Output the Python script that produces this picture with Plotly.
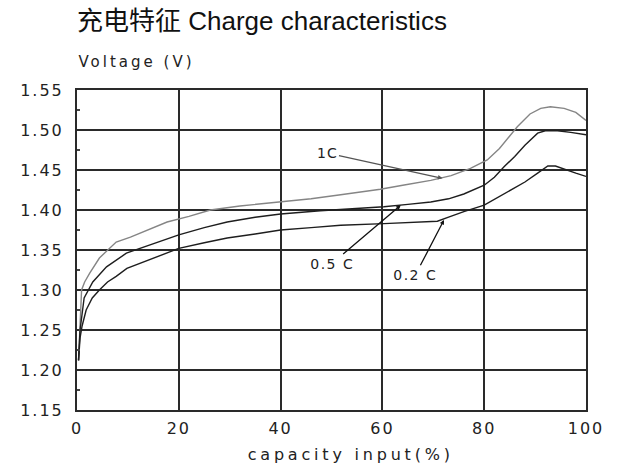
import plotly.graph_objects as go

# capacity input (%) and voltage (V) for each charge rate
x_1c = [0.3, 0.6, 0.9, 1.5, 2.5, 4.4, 7.7, 10.5, 13.6, 17.7, 22, 26.2, 32, 40, 46, 51.8,
        59.6, 64, 69.5, 73.5, 77.3, 80.6, 83, 86.5, 89, 91.1, 93, 95.7, 98, 100]
v_1c = [1.212, 1.26, 1.30, 1.31, 1.321, 1.34, 1.36, 1.366, 1.374, 1.385, 1.392, 1.40, 1.405,
        1.41, 1.414, 1.419, 1.426, 1.431, 1.437, 1.443, 1.452, 1.4625, 1.477, 1.504, 1.52,
        1.527, 1.529, 1.527, 1.522, 1.512]

x_05c = [0.3, 0.6, 1.0, 1.4, 3.1, 5.8, 9.7, 13.6, 20, 25, 29.5, 35, 40, 47.8, 53.7, 60.3,
         65, 69.5, 73, 76, 80, 82, 83.9, 86, 88, 90.5, 92, 94.4, 97, 100]
v_05c = [1.212, 1.25, 1.27, 1.29, 1.31, 1.329, 1.346, 1.355, 1.369, 1.378, 1.385, 1.391,
         1.395, 1.399, 1.401, 1.404, 1.407, 1.41, 1.414, 1.42, 1.431, 1.441, 1.454, 1.467,
         1.481, 1.496, 1.499, 1.499, 1.497, 1.494]

x_02c = [0.3, 0.6, 1.0, 1.8, 3, 4.4, 6, 7.7, 9.8, 13, 16, 20, 25, 29.5, 35, 40, 46, 51.8,
         60.3, 65, 70.8, 73, 76, 80, 82.5, 85.2, 88, 90.5, 92.5, 94, 96, 98, 100]
v_02c = [1.212, 1.24, 1.255, 1.275, 1.29, 1.30, 1.31, 1.317, 1.327, 1.335, 1.343, 1.352,
         1.359, 1.365, 1.37, 1.375, 1.378, 1.381, 1.383, 1.384, 1.386, 1.391, 1.398, 1.406,
         1.415, 1.425, 1.435, 1.446, 1.455, 1.455, 1.45, 1.446, 1.442]

x_ticks = [0, 20, 40, 60, 80, 100]
y_ticks = [1.15, 1.20, 1.25, 1.30, 1.35, 1.40, 1.45, 1.50, 1.55]
y_ticktext = ["1.15", "1.20", "1.25", "1.30", "1.35", "1.40", "1.45", "1.50", "1.55"]

title_text = "充电特征 Charge characteristics"
y_title = "Voltage (V)"
x_title = "capacity input(%)"

# label: (text, text_x, text_y, point_x, point_y, colour)
labels = [
    ("1C", 49.3, 1.471, 71.8, 1.4396, "#555555"),
    ("0.5 C", 50.1, 1.333, 63.6, 1.406, "#111111"),
    ("0.2 C", 66.5, 1.319, 72.1, 1.3875, "#111111"),
]

W, H = 619, 468
ML, MR, MT, MB = 77, 33, 90, 58
PW, PH = W - ML - MR, H - MT - MB


def px_x(px):
    return (px - ML) / PW


def px_y(py):
    return (H - MB - py) / PH


tick_font = dict(family="DejaVu Sans", size=16, color="#222222")

fig = go.Figure()
fig.add_trace(go.Scatter(x=x_1c, y=v_1c, mode="lines",
                         line=dict(color="#858585", width=1.4), name="1C"))
fig.add_trace(go.Scatter(x=x_05c, y=v_05c, mode="lines",
                         line=dict(color="#1e1e1e", width=1.4), name="0.5C"))
fig.add_trace(go.Scatter(x=x_02c, y=v_02c, mode="lines",
                         line=dict(color="#1e1e1e", width=1.4), name="0.2C"))

annotations = []
for text, tx, ty, px, py, col in labels:
    annotations.append(dict(
        x=px, y=py, xref="x", yref="y", ax=tx, ay=ty, axref="x", ayref="y",
        text=text, showarrow=True, arrowhead=2, arrowsize=0.7, arrowwidth=1.3,
        arrowcolor=col, standoff=0, startstandoff=0,
        font=dict(family="DejaVu Sans", size=14, color="#222222"),
    ))

annotations.append(dict(x=px_x(75), y=px_y(21), xref="paper", yref="paper",
                        xanchor="left", yanchor="middle", showarrow=False,
                        text=title_text,
                        font=dict(family="Liberation Sans, Noto Sans CJK SC", size=26, color="#111111")))
annotations.append(dict(x=px_x(136), y=px_y(62), xref="paper", yref="paper",
                        xanchor="center", yanchor="middle", showarrow=False,
                        text=y_title,
                        font=dict(family="DejaVu Sans", size=15, color="#222222")))
annotations.append(dict(x=px_x(350), y=px_y(454), xref="paper", yref="paper",
                        xanchor="center", yanchor="middle", showarrow=False,
                        text=x_title,
                        font=dict(family="DejaVu Sans", size=16, color="#222222")))

fig.update_layout(
    width=W, height=H,
    margin=dict(l=ML, r=MR, t=MT, b=MB, autoexpand=False),
    paper_bgcolor="white", plot_bgcolor="white",
    showlegend=False,
    annotations=annotations,
    xaxis=dict(range=[0, 100], tickvals=x_ticks, ticktext=[str(v) for v in x_ticks],
               showgrid=True, gridcolor="#2a2a2a", gridwidth=2,
               showline=True, mirror=True, linecolor="#2a2a2a", linewidth=2,
               ticks="outside", ticklen=3, tickcolor="rgba(0,0,0,0)",
               tickfont=tick_font, zeroline=False, fixedrange=True),
    yaxis=dict(range=[1.15, 1.55], tickvals=y_ticks, ticktext=y_ticktext,
               showgrid=True, gridcolor="#2a2a2a", gridwidth=2,
               showline=True, mirror=True, linecolor="#2a2a2a", linewidth=2,
               ticks="outside", ticklen=8, tickcolor="rgba(0,0,0,0)",
               tickfont=tick_font, zeroline=False, fixedrange=True,
               minor=dict(ticks="inside", ticklen=3, tickwidth=1.5, tickcolor="#444444",
                          tick0=1.175, dtick=0.05, showgrid=False)),
)

post = """
document.body.style.margin='0px';
document.body.style.overflow='hidden';
var gd = document.getElementById('{plot_id}');
var spacing = {'Voltage (V)': '3px', 'capacity input(%)': '3.8px',
               '1C': '1px', '0.5 C': '1.5px', '0.2 C': '1.5px'};
function applySpacing() {
  gd.querySelectorAll('.xtick text, .ytick text').forEach(function(t) {
    t.setAttribute('letter-spacing', '2px');
  });
  gd.querySelectorAll('.annotation-text').forEach(function(t) {
    var s = spacing[t.textContent];
    if (s) { t.setAttribute('letter-spacing', s); }
  });
}
applySpacing();
if (gd.on) { gd.on('plotly_afterplot', applySpacing); }
"""

fig.write_html("out.html", post_script=post, config={"displayModeBar": False})
